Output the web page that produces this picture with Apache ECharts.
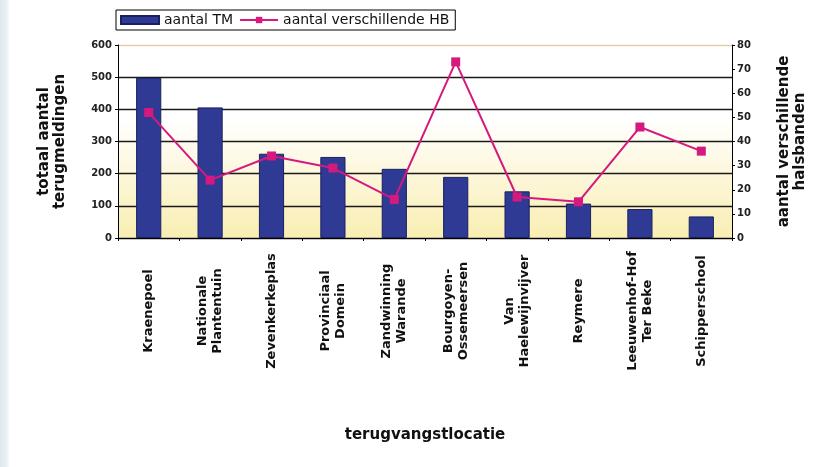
<!DOCTYPE html>
<html>
<head>
<meta charset="utf-8">
<script src="https://cdn.jsdelivr.net/npm/echarts@6/dist/echarts.min.js"></script>
<style>
    html, body { margin: 0; padding: 0; background: #fff; }
    #chart { width: 816px; height: 467px; }
</style>
</head>
<body>
<div id="chart"></div>
<script>
// terugvangstlocaties (categorieën)
var locaties = ['Kraenepoel', 'Nationale\nPlantentuin', 'Zevenkerkeplas', 'Provinciaal\nDomein',
    'Zandwinning\nWarande', 'Bourgoyen-\nOssemeersen', 'Van\nHaelewijnvijver', 'Reymere',
    'Leeuwenhof-Hof\nTer Beke', 'Schipperschool'];
// totaal aantal terugmeldingen (linker as)
var aantalTM = [498, 406, 262, 252, 215, 190, 145, 107, 90, 67];
// aantal verschillende halsbanden (rechter as)
var aantalHB = [52, 24, 34, 29, 16, 73, 17, 15, 46, 36];
var tickLinks = [0, 600, 100];
var tickRechts = [0, 80, 10];

var boldFont = 'DejaVu Sans';

var chart = echarts.init(document.getElementById('chart'));

var option = {
    backgroundColor: '#fff',
    animation: false,
    graphic: [{
        type: 'rect',
        left: 0, top: 0,
        shape: {width: 9, height: 467},
        style: {
            fill: new echarts.graphic.LinearGradient(0, 0, 1, 0, [
                {offset: 0, color: '#e1e9ee'},
                {offset: 0.7, color: '#e9f0f3'},
                {offset: 1, color: '#f8fafb'}
            ])
        }
    }],
    legend: {
        left: 116,
        top: 10,
        padding: [3, 6, 3, 4],
        itemGap: 6,
        itemWidth: 38,
        itemHeight: 8,
        borderColor: '#000',
        borderWidth: 1,
        textStyle: {fontFamily: boldFont, fontSize: 14, color: '#111'},
        data: [{name: 'aantal TM', icon: 'rect'}, {name: 'aantal verschillende HB'}]
    },
    grid: {
        left: 118,
        right: 84,
        top: 45,
        bottom: 229,
        show: true,
        borderWidth: 0,
        backgroundColor: new echarts.graphic.LinearGradient(0, 0, 0, 1, [
            {offset: 0, color: '#ffffff'},
            {offset: 0.38, color: '#ffffff'},
            {offset: 1, color: '#f9eeb2'}
        ])
    },
    xAxis: {
        type: 'category',
        data: locaties,
        name: 'terugvangstlocatie',
        nameLocation: 'middle',
        nameGap: 190,
        nameTextStyle: {fontFamily: boldFont, fontWeight: 'bold', fontSize: 15, color: '#111'},
        axisLine: {lineStyle: {color: '#000', width: 1}},
        axisTick: {show: true, length: 3, lineStyle: {color: '#000'}},
        axisLabel: {
            rotate: 90,
            align: 'center',
            verticalAlign: 'middle',
            margin: 73,
            interval: 0,
            lineHeight: 15,
            fontFamily: boldFont,
            fontWeight: 'bold',
            fontSize: 13,
            color: '#111'
        }
    },
    yAxis: [{
        type: 'value',
        min: tickLinks[0],
        max: tickLinks[1],
        interval: tickLinks[2],
        name: 'totaal aantal\nterugmeldingen',
        nameLocation: 'middle',
        nameRotate: 90,
        nameGap: 50,
        nameTextStyle: {fontFamily: boldFont, fontWeight: 'bold', fontSize: 15, lineHeight: 16, color: '#111'},
        axisLine: {show: true, lineStyle: {color: '#000', width: 1}},
        axisTick: {show: true, length: 3, lineStyle: {color: '#000'}},
        axisLabel: {margin: 6, fontFamily: boldFont, fontWeight: 'bold', fontSize: 10, color: '#222'},
        splitLine: {
            show: true,
            lineStyle: {
                color: ['#1a1a1a', '#1a1a1a', '#1a1a1a', '#1a1a1a', '#1a1a1a', '#1a1a1a', '#e6cfa8'],
                width: 1.3
            }
        }
    }, {
        type: 'value',
        min: tickRechts[0],
        max: tickRechts[1],
        interval: tickRechts[2],
        position: 'right',
        name: 'aantal verschillende\nhalsbanden',
        nameLocation: 'middle',
        nameRotate: 90,
        nameGap: 44,
        nameTextStyle: {fontFamily: boldFont, fontWeight: 'bold', fontSize: 15, lineHeight: 16, color: '#111'},
        axisLine: {show: true, lineStyle: {color: '#000', width: 1}},
        axisTick: {show: true, length: 3, lineStyle: {color: '#000'}},
        axisLabel: {margin: 5, fontFamily: boldFont, fontWeight: 'bold', fontSize: 10, color: '#222'},
        splitLine: {show: false}
    }],
    series: [{
        name: 'aantal TM',
        type: 'bar',
        yAxisIndex: 0,
        barWidth: '41%',
        itemStyle: {color: '#2f3a94', borderColor: '#1b2060', borderWidth: 1},
        data: aantalTM
    }, {
        name: 'aantal verschillende HB',
        type: 'line',
        yAxisIndex: 1,
        symbol: 'rect',
        symbolSize: 9,
        lineStyle: {color: '#d6197f', width: 2},
        itemStyle: {color: '#d6197f'},
        data: aantalHB
    }]
};

chart.setOption(option);
</script>
</body>
</html>
